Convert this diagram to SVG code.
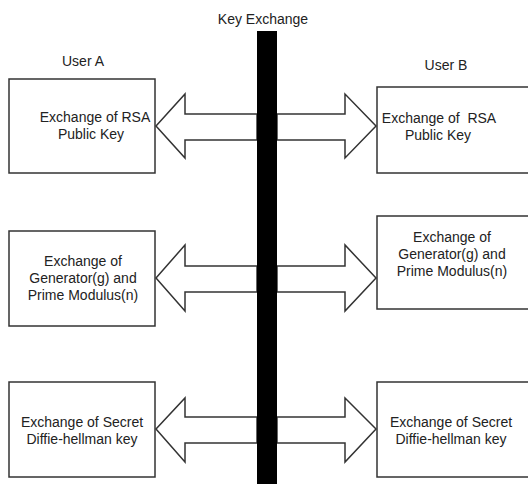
<svg xmlns="http://www.w3.org/2000/svg" width="528" height="484" viewBox="0 0 528 484">
<style>
.box{fill:#fff;stroke:#333;stroke-width:1.5}
.arr{fill:#fff;stroke:#333;stroke-width:1.5;stroke-linejoin:miter}
text{font-family:"Liberation Sans",Arial,sans-serif;font-size:14px;fill:#222;text-anchor:middle}
</style>
<rect width="528" height="484" fill="#fff"/>
<g id="title"><text x="263" y="24">Key Exchange</text></g>
<g id="userA"><text x="83" y="66">User A</text></g>
<g id="userB"><text x="446" y="70">User B</text></g>
<g id="connectors">
<polygon class="arr" points="156,126 185,94 185,114 257,114 257,140 185,140 185,158"/>
<polygon class="arr" points="277,114 345,114 345,94 376,126 345,158 345,140 277,140"/>
<polygon class="arr" points="156,278 185,245 185,266 257,266 257,292 185,292 185,311"/>
<polygon class="arr" points="277,266 345,266 345,245 376,278 345,311 345,292 277,292"/>
<polygon class="arr" points="156,429 185,398 185,417 257,417 257,443 185,443 185,462"/>
<polygon class="arr" points="277,417 345,417 345,398 376,429 345,462 345,443 277,443"/>
<rect x="257" y="31" width="20" height="460" fill="#000"/>
</g>
<g id="a1"><rect class="box" x="9" y="79" width="146" height="94"/>
<text x="95" y="122">Exchange of RSA</text><text x="91" y="139">Public Key</text></g>
<g id="b1"><rect class="box" x="377" y="87" width="160" height="86"/>
<text x="439" y="123">Exchange of&#160; RSA</text><text x="438" y="140">Public Key</text></g>
<g id="a2"><rect class="box" x="9" y="231" width="146" height="95"/>
<text x="83" y="266">Exchange of</text><text x="83" y="283">Generator(g) and</text><text x="83" y="300">Prime Modulus(n)</text></g>
<g id="b2"><rect class="box" x="377" y="216" width="160" height="93"/>
<text x="452" y="242">Exchange of</text><text x="452" y="259">Generator(g) and</text><text x="452" y="276">Prime Modulus(n)</text></g>
<g id="a3"><rect class="box" x="9" y="382" width="146" height="95"/>
<text x="82" y="427">Exchange of Secret</text><text x="82" y="444">Diffie-hellman key</text></g>
<g id="b3"><rect class="box" x="377" y="382" width="160" height="95"/>
<text x="451" y="427">Exchange of Secret</text><text x="451" y="444">Diffie-hellman key</text></g>
</svg>
